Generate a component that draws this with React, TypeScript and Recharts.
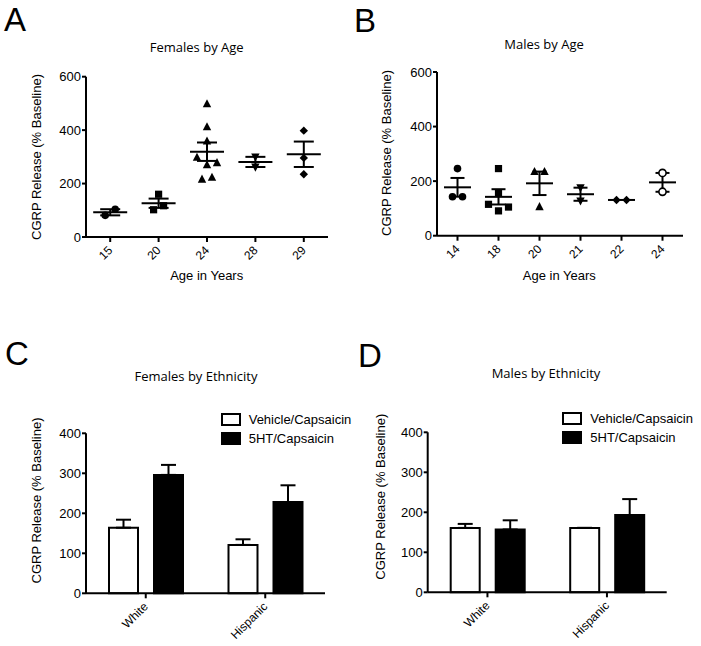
import React from "react";
import {
  Bar,
  BarChart,
  ErrorBar,
  Legend,
  Scatter,
  ScatterChart,
  XAxis,
  YAxis,
} from "recharts";

// A: females by age
const femaleAges = ["15", "20", "24", "28", "29"];
const femaleByAge = [
  [81, 104],
  [160, 117, 102],
  [498, 412, 359, 298, 278, 270, 223, 216],
  [300, 262],
  [398, 296, 235],
];

// B: males by age
const maleAges = ["14", "18", "20", "21", "22", "24"];
const maleByAge = [
  [246, 143, 143],
  [246, 155, 115, 105, 91],
  [235, 235, 106],
  [176, 128],
  [131, 131],
  [230, 161],
];

const ageTicks = [0, 200, 400, 600];

// C / D: by ethnicity
const ethnicities = ["White", "Hispanic"];
const seriesNames = ["Vehicle/Capsaicin", "5HT/Capsaicin"];
const femaleVehicle = [164, 121];
const femaleVehicleSem = [20, 14];
const femaleSerotonin = [296, 228];
const femaleSerotoninSem = [25, 42];
const maleVehicle = [161, 161];
const maleVehicleSem = [10, 0];
const maleSerotonin = [157, 193];
const maleSerotoninSem = [23, 40];
const ethnicTicks = [0, 100, 200, 300, 400];

const femaleMarkers = ["circle", "square", "triangle", "triangleDown", "diamond"];
const maleMarkers = ["circle", "square", "triangle", "triangleDown", "diamond", "openCircle"];

const SANS = '"Liberation Sans", Arial, sans-serif';
const TITLE = '"Open Sans", "Noto Sans", sans-serif';
const axisStroke = { stroke: "#000", strokeWidth: 2 };

// spread points that sit close together, like a prism column scatter
function spread(values: number[], near = 30) {
  const sorted = [...values].sort((a, b) => a - b);
  const out: { y: number; slot: number }[] = [];
  let cluster: number[] = [];
  const flush = () => {
    const n = cluster.length;
    cluster.forEach((v, k) => {
      const slot =
        n % 2 === 0 ? k - (n - 1) / 2 : k === 0 ? 0 : (k % 2 ? 1 : -1) * Math.ceil(k / 2);
      out.push({ y: v, slot });
    });
    cluster = [];
  };
  sorted.forEach((v) => {
    if (cluster.length && v - cluster[cluster.length - 1] >= near) flush();
    cluster.push(v);
  });
  flush();
  return out;
}

function stats(values: number[]) {
  const n = values.length;
  const mean = values.reduce((s, v) => s + v, 0) / n;
  const sd = Math.sqrt(values.reduce((s, v) => s + (v - mean) ** 2, 0) / (n - 1));
  return { mean, sem: sd / Math.sqrt(n) };
}

function Marker({ cx, cy, kind }: { cx: number; cy: number; kind: string }) {
  const r = 4.2;
  switch (kind) {
    case "square":
      return <rect x={cx - 3.6} y={cy - 3.6} width={7.2} height={7.2} fill="#000" />;
    case "triangle":
      return (
        <polygon
          points={`${cx},${cy - r - 0.5} ${cx - r},${cy + r - 0.8} ${cx + r},${cy + r - 0.8}`}
          fill="#000"
        />
      );
    case "triangleDown":
      return (
        <polygon
          points={`${cx},${cy + r + 0.5} ${cx - r},${cy - r + 0.8} ${cx + r},${cy - r + 0.8}`}
          fill="#000"
        />
      );
    case "diamond":
      return (
        <polygon
          points={`${cx},${cy - r} ${cx + r},${cy} ${cx},${cy + r} ${cx - r},${cy}`}
          fill="#000"
        />
      );
    case "openCircle":
      return <circle cx={cx} cy={cy} r={3.6} fill="#fff" stroke="#000" strokeWidth={1.6} />;
    default:
      return <circle cx={cx} cy={cy} r={3.8} fill="#000" />;
  }
}

function AngledTick(props: any) {
  const { x, y, payload, labels, fontSize = 12 } = props;
  const label = labels ? labels[payload.value] : payload.value;
  const ax = x + 3;
  const ay = y + 7;
  return (
    <text
      x={ax}
      y={ay}
      transform={`rotate(-45, ${ax}, ${ay})`}
      textAnchor="end"
      fontSize={fontSize}
      fontFamily={SANS}
      fill="#000"
    >
      {label}
    </text>
  );
}

type AgeProps = {
  ages: string[];
  groups: number[][];
  markers: string[];
  width: number;
  height: number;
  top: number;
  right: number;
  yWidth: number;
  xHeight: number;
  meanHalf: number;
  capHalf: number;
};

function AgeScatter(p: AgeProps) {
  const points = p.groups.flatMap((vals, i) =>
    spread(vals).map((d) => ({ x: i, y: d.y, slot: d.slot }))
  );
  const summary = p.groups.map((vals, i) => {
    const s = stats(vals);
    return { x: i, y: s.mean, err: s.sem };
  });
  return (
    <ScatterChart
      width={p.width}
      height={p.height}
      margin={{ top: p.top, right: p.right, bottom: 0, left: 0 }}
    >
      <XAxis
        type="number"
        dataKey="x"
        domain={[-0.5, p.ages.length - 0.5]}
        ticks={p.ages.map((_, i) => i)}
        interval={0}
        height={p.xHeight}
        tickSize={5}
        axisLine={axisStroke}
        tickLine={axisStroke}
        tick={(t: any) => <AngledTick {...t} labels={p.ages} />}
      />
      <YAxis
        type="number"
        dataKey="y"
        domain={[0, 600]}
        ticks={ageTicks}
        width={p.yWidth}
        tickSize={4}
        tickMargin={1}
        axisLine={axisStroke}
        tickLine={axisStroke}
        tick={{ fill: "#000", fontSize: 13, fontFamily: SANS }}
      />
      <Scatter
        data={points}
        isAnimationActive={false}
        shape={(s: any) => (
          <Marker
            cx={s.cx + s.payload.slot * 10}
            cy={s.cy}
            kind={p.markers[s.payload.x]}
          />
        )}
      />
      <Scatter
        data={summary}
        isAnimationActive={false}
        shape={(s: any) => (
          <line
            x1={s.cx - p.meanHalf}
            x2={s.cx + p.meanHalf}
            y1={s.cy}
            y2={s.cy}
            stroke="#000"
            strokeWidth={2}
          />
        )}
      >
        <ErrorBar dataKey="err" direction="y" width={p.capHalf} stroke="#000" strokeWidth={2} />
      </Scatter>
    </ScatterChart>
  );
}

function SeriesKey() {
  return (
    <div style={{ fontFamily: SANS, fontSize: 13, color: "#000", lineHeight: "19px" }}>
      {seriesNames.map((name, i) => (
        <div key={name} style={{ display: "flex", alignItems: "center", height: 19 }}>
          <svg width={20} height={13} style={{ marginRight: 8 }}>
            <rect
              x={1}
              y={1}
              width={18}
              height={11}
              fill={i === 0 ? "#fff" : "#000"}
              stroke="#000"
              strokeWidth={2}
            />
          </svg>
          <span style={{ whiteSpace: "nowrap" }}>{name}</span>
        </div>
      ))}
    </div>
  );
}

type EthProps = {
  vehicle: number[];
  vehicleSem: number[];
  serotonin: number[];
  serotoninSem: number[];
  width: number;
  height: number;
  top: number;
  right: number;
  yWidth: number;
  xHeight: number;
  legendLeft: number;
  legendTop: number;
};

function EthnicBars(p: EthProps) {
  const rows = ethnicities.map((g, i) => ({
    group: g,
    vehicle: p.vehicle[i],
    vehicleErr: [0, p.vehicleSem[i]],
    serotonin: p.serotonin[i],
    serotoninErr: [0, p.serotoninSem[i]],
  }));
  return (
    <BarChart
      width={p.width}
      height={p.height}
      data={rows}
      margin={{ top: p.top, right: p.right, bottom: 0, left: 0 }}
      barSize={29}
      barGap={16}
    >
      <XAxis
        dataKey="group"
        interval={0}
        height={p.xHeight}
        tickSize={5}
        axisLine={axisStroke}
        tickLine={axisStroke}
        tick={(t: any) => <AngledTick {...t} />}
      />
      <YAxis
        type="number"
        domain={[0, 400]}
        ticks={ethnicTicks}
        width={p.yWidth}
        tickSize={4}
        tickMargin={1}
        axisLine={axisStroke}
        tickLine={axisStroke}
        tick={{ fill: "#000", fontSize: 13, fontFamily: SANS }}
      />
      <Legend
        layout="vertical"
        align="center"
        verticalAlign="middle"
        wrapperStyle={{ left: p.legendLeft, top: p.legendTop, width: "auto" }}
        content={() => <SeriesKey />}
      />
      <Bar
        dataKey="vehicle"
        name={seriesNames[0]}
        fill="#fff"
        stroke="#000"
        strokeWidth={2}
        isAnimationActive={false}
      >
        <ErrorBar dataKey="vehicleErr" width={7.5} stroke="#000" strokeWidth={2} />
      </Bar>
      <Bar
        dataKey="serotonin"
        name={seriesNames[1]}
        fill="#000"
        stroke="#000"
        strokeWidth={2}
        isAnimationActive={false}
      >
        <ErrorBar dataKey="serotoninErr" width={7.5} stroke="#000" strokeWidth={2} />
      </Bar>
    </BarChart>
  );
}

const yTitle = "CGRP Release (% Baseline)";

export default function App() {
  const abs = (left: number, top: number): React.CSSProperties => ({
    position: "absolute",
    left,
    top,
  });
  return (
    <div
      style={{
        position: "absolute",
        left: 0,
        top: 0,
        width: 701,
        height: 646,
        background: "#fff",
        overflow: "hidden",
      }}
    >
      <div style={abs(0, 0)}>
        <AgeScatter
          ages={femaleAges}
          groups={femaleByAge}
          markers={femaleMarkers}
          width={350}
          height={300}
          top={76.7}
          right={22}
          yWidth={86}
          xHeight={63}
          meanHalf={17}
          capHalf={10}
        />
      </div>
      <div style={abs(350, 0)}>
        <AgeScatter
          ages={maleAges}
          groups={maleByAge}
          markers={maleMarkers}
          width={351}
          height={300}
          top={72}
          right={18}
          yWidth={87}
          xHeight={64.3}
          meanHalf={13.5}
          capHalf={7}
        />
      </div>
      <div style={abs(0, 300)}>
        <EthnicBars
          vehicle={femaleVehicle}
          vehicleSem={femaleVehicleSem}
          serotonin={femaleSerotonin}
          serotoninSem={femaleSerotoninSem}
          width={350}
          height={346}
          top={133.3}
          right={25}
          yWidth={86}
          xHeight={52.7}
          legendLeft={220.7}
          legendTop={110}
        />
      </div>
      <div style={abs(350, 300)}>
        <EthnicBars
          vehicle={maleVehicle}
          vehicleSem={maleVehicleSem}
          serotonin={maleSerotonin}
          serotoninSem={maleSerotoninSem}
          width={351}
          height={346}
          top={132.3}
          right={34.3}
          yWidth={77.7}
          xHeight={53.7}
          legendLeft={212.3}
          legendTop={109}
        />
      </div>
      <svg
        width={701}
        height={646}
        style={{ position: "absolute", left: 0, top: 0, pointerEvents: "none" }}
      >
        <g fontFamily={SANS} fontSize={33} fill="#000">
          <text x={4} y={31}>A</text>
          <text x={354} y={32}>B</text>
          <text x={5} y={365}>C</text>
          <text x={358} y={366.5}>D</text>
        </g>
        <g fontFamily={TITLE} fontSize={13} fill="#000" textAnchor="middle">
          <text x={196.7} y={51.5}>Females by Age</text>
          <text x={544} y={49}>Males by Age</text>
          <text x={196} y={381}>Females by Ethnicity</text>
          <text x={546} y={378.3}>Males by Ethnicity</text>
        </g>
        <g fontFamily={SANS} fontSize={13} fill="#000" textAnchor="middle">
          <text transform="translate(41,157) rotate(-90)">{yTitle}</text>
          <text transform="translate(391,153) rotate(-90)">{yTitle}</text>
          <text transform="translate(41,500.5) rotate(-90)">{yTitle}</text>
          <text transform="translate(385,496.7) rotate(-90)">{yTitle}</text>
          <text x={206.7} y={279.5}>Age in Years</text>
          <text x={559.3} y={279.5}>Age in Years</text>
        </g>
      </svg>
    </div>
  );
}
